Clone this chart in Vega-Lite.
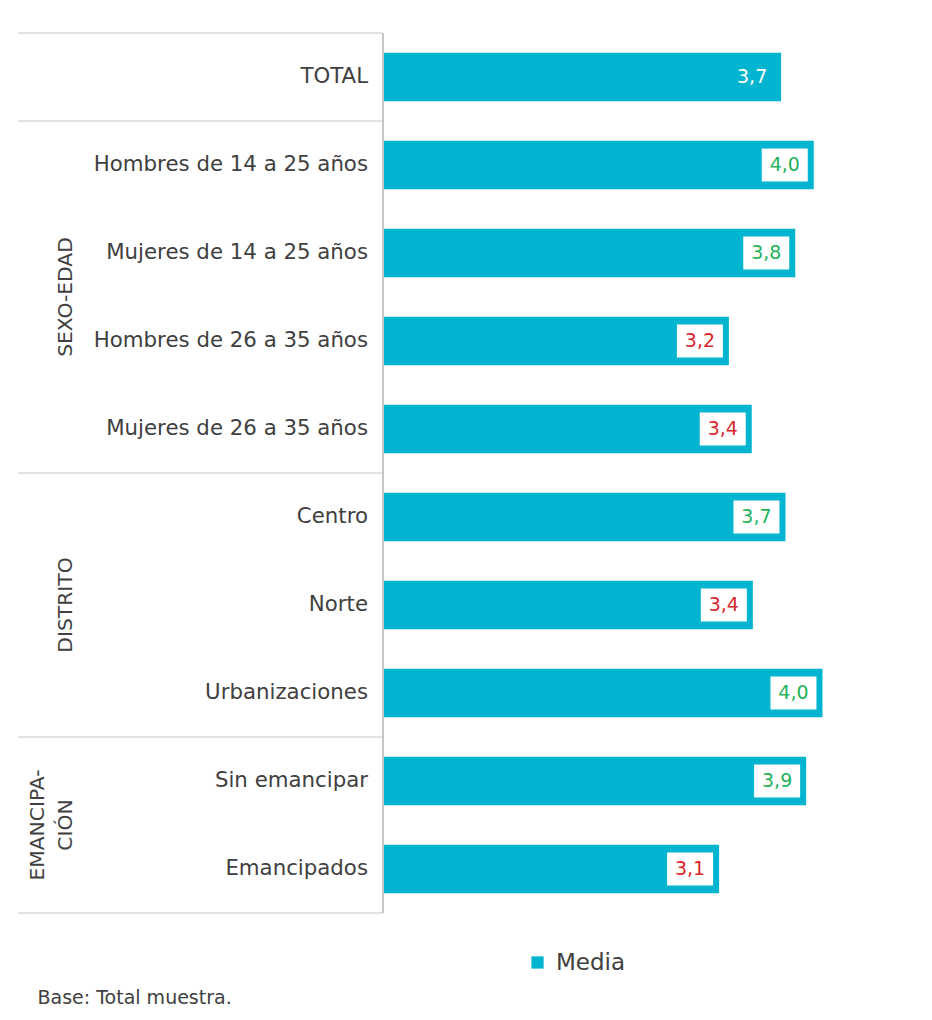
{
  "$schema": "https://vega.github.io/schema/vega-lite/v6.json",
  "background": "#ffffff",
  "padding": {"left": 17, "top": 32, "right": 0, "bottom": 0},
  "spacing": 0,
  "datasets": {
    "filas": [
      {"categoria": "TOTAL", "grupo": "TOTAL", "valor": 3.65, "etiqueta": "3,7", "dif": "ninguna"},
      {"categoria": "Hombres de 14 a 25 años", "grupo": "SEXO-EDAD", "valor": 3.95, "etiqueta": "4,0", "dif": "superior"},
      {"categoria": "Mujeres de 14 a 25 años", "grupo": "SEXO-EDAD", "valor": 3.78, "etiqueta": "3,8", "dif": "superior"},
      {"categoria": "Hombres de 26 a 35 años", "grupo": "SEXO-EDAD", "valor": 3.17, "etiqueta": "3,2", "dif": "inferior"},
      {"categoria": "Mujeres de 26 a 35 años", "grupo": "SEXO-EDAD", "valor": 3.38, "etiqueta": "3,4", "dif": "inferior"},
      {"categoria": "Centro", "grupo": "DISTRITO", "valor": 3.69, "etiqueta": "3,7", "dif": "superior"},
      {"categoria": "Norte", "grupo": "DISTRITO", "valor": 3.39, "etiqueta": "3,4", "dif": "inferior"},
      {"categoria": "Urbanizaciones", "grupo": "DISTRITO", "valor": 4.03, "etiqueta": "4,0", "dif": "superior"},
      {"categoria": "Sin emancipar", "grupo": "EMANCIPA-\nCIÓN", "valor": 3.88, "etiqueta": "3,9", "dif": "superior"},
      {"categoria": "Emancipados", "grupo": "EMANCIPA-\nCIÓN", "valor": 3.08, "etiqueta": "3,1", "dif": "inferior"}
    ]
  },
  "title": {
    "text": "Base: Total muestra.",
    "orient": "bottom",
    "anchor": "start",
    "fontSize": 19,
    "fontWeight": "normal",
    "font": "DejaVu Sans",
    "color": "#404040",
    "dx": 20,
    "offset": 14
  },
  "hconcat": [
    {
      "width": 365,
      "height": 880,
      "data": {"name": "filas"},
      "transform": [
        {"window": [{"op": "row_number", "as": "idx"}]},
        {"window": [{"op": "first_value", "field": "categoria", "as": "primera"}], "groupby": ["grupo"], "frame": [null, null]},
        {"window": [{"op": "last_value", "field": "categoria", "as": "ultima"}], "frame": [null, null]}
      ],
      "layer": [
        {
          "layer": [
            {
              "mark": {"type": "text", "align": "right", "baseline": "middle", "dx": -15, "fontSize": 21.3, "font": "DejaVu Sans", "color": "#404040"},
              "encoding": {
                "y": {"field": "categoria", "type": "nominal", "sort": null, "scale": {"paddingInner": 0, "paddingOuter": 0}, "axis": null},
                "x": {"datum": 1, "type": "quantitative", "scale": {"domain": [0, 1], "nice": false}, "axis": null},
                "text": {"field": "categoria"}
              }
            },
            {
              "mark": {"type": "rule", "color": "#c6c6c6", "strokeWidth": 1},
              "encoding": {
                "y": {"field": "categoria", "type": "nominal", "sort": null, "bandPosition": 0},
                "strokeOpacity": {"condition": {"test": "datum.categoria === datum.primera", "value": 1}, "value": 0}
              }
            },
            {
              "mark": {"type": "rule", "color": "#c6c6c6", "strokeWidth": 1},
              "encoding": {
                "y": {"field": "categoria", "type": "nominal", "sort": null, "bandPosition": 1},
                "strokeOpacity": {"condition": {"test": "datum.categoria === datum.ultima", "value": 1}, "value": 0}
              }
            },
            {
              "mark": {"type": "rule", "color": "#c6c6c6", "strokeWidth": 1},
              "encoding": {
                "x": {"datum": 1, "type": "quantitative"}
              }
            }
          ]
        },
        {
          "transform": [
            {"filter": "datum.grupo !== 'TOTAL'"},
            {"aggregate": [{"op": "mean", "field": "idx", "as": "centro"}], "groupby": ["grupo"]}
          ],
          "layer": [
            {
              "transform": [{"filter": "indexof(datum.grupo, '\\n') < 0"}],
              "mark": {"type": "text", "angle": 270, "align": "center", "baseline": "bottom", "fontSize": 20.3, "font": "DejaVu Sans", "color": "#404040"},
              "encoding": {
                "y": {"field": "centro", "type": "quantitative", "scale": {"domain": [0.5, 10.5], "reverse": true, "nice": false, "zero": false}, "axis": null},
                "x": {"datum": 0.16, "type": "quantitative"},
                "text": {"field": "grupo"}
              }
            },
            {
              "transform": [{"filter": "indexof(datum.grupo, '\\n') >= 0"}],
              "mark": {"type": "text", "angle": 270, "align": "center", "baseline": "bottom", "dy": -28, "fontSize": 20.3, "font": "DejaVu Sans", "color": "#404040", "lineBreak": "\n", "lineHeight": 28},
              "encoding": {
                "y": {"field": "centro", "type": "quantitative"},
                "x": {"datum": 0.16, "type": "quantitative"},
                "text": {"field": "grupo"}
              }
            }
          ]
        }
      ],
      "resolve": {"scale": {"y": "independent"}}
    },
    {
      "width": 544,
      "height": 880,
      "data": {"name": "filas"},
      "encoding": {
        "y": {"field": "categoria", "type": "nominal", "sort": null, "scale": {"paddingInner": 0.45, "paddingOuter": 0.225}, "axis": null},
        "x": {"field": "valor", "type": "quantitative", "scale": {"domain": [0, 5], "nice": false}, "axis": null}
      },
      "layer": [
        {
          "mark": {"type": "bar"},
          "encoding": {
            "fill": {
              "datum": "Media",
              "type": "nominal",
              "scale": {"range": ["#01b4cf"]},
              "legend": {
                "title": null,
                "orient": "none",
                "legendX": 508,
                "legendY": 918,
                "symbolType": "square",
                "symbolSize": 150,
                "symbolStrokeWidth": 0,
                "labelFontSize": 23,
                "labelFont": "DejaVu Sans",
                "labelColor": "#404040",
                "labelOffset": 7
              }
            }
          }
        },
        {
          "mark": {"type": "point", "shape": "M-1,-0.717L1,-0.717L1,0.717L-1,0.717Z", "size": 2116, "filled": true, "fill": "#ffffff", "strokeWidth": 0, "xOffset": -29},
          "encoding": {
            "opacity": {"condition": {"test": "datum.dif === 'ninguna'", "value": 0}, "value": 1}
          }
        },
        {
          "mark": {"type": "text", "xOffset": -29, "align": "center", "baseline": "middle", "fontSize": 19, "font": "DejaVu Sans"},
          "encoding": {
            "text": {"field": "etiqueta"},
            "color": {"field": "dif", "type": "nominal", "scale": {"domain": ["superior", "inferior", "ninguna"], "range": ["#1fb35b", "#d9262c", "#ffffff"]}, "legend": null}
          }
        }
      ]
    }
  ],
  "config": {"view": {"stroke": null}, "concat": {"spacing": 0}}
}
